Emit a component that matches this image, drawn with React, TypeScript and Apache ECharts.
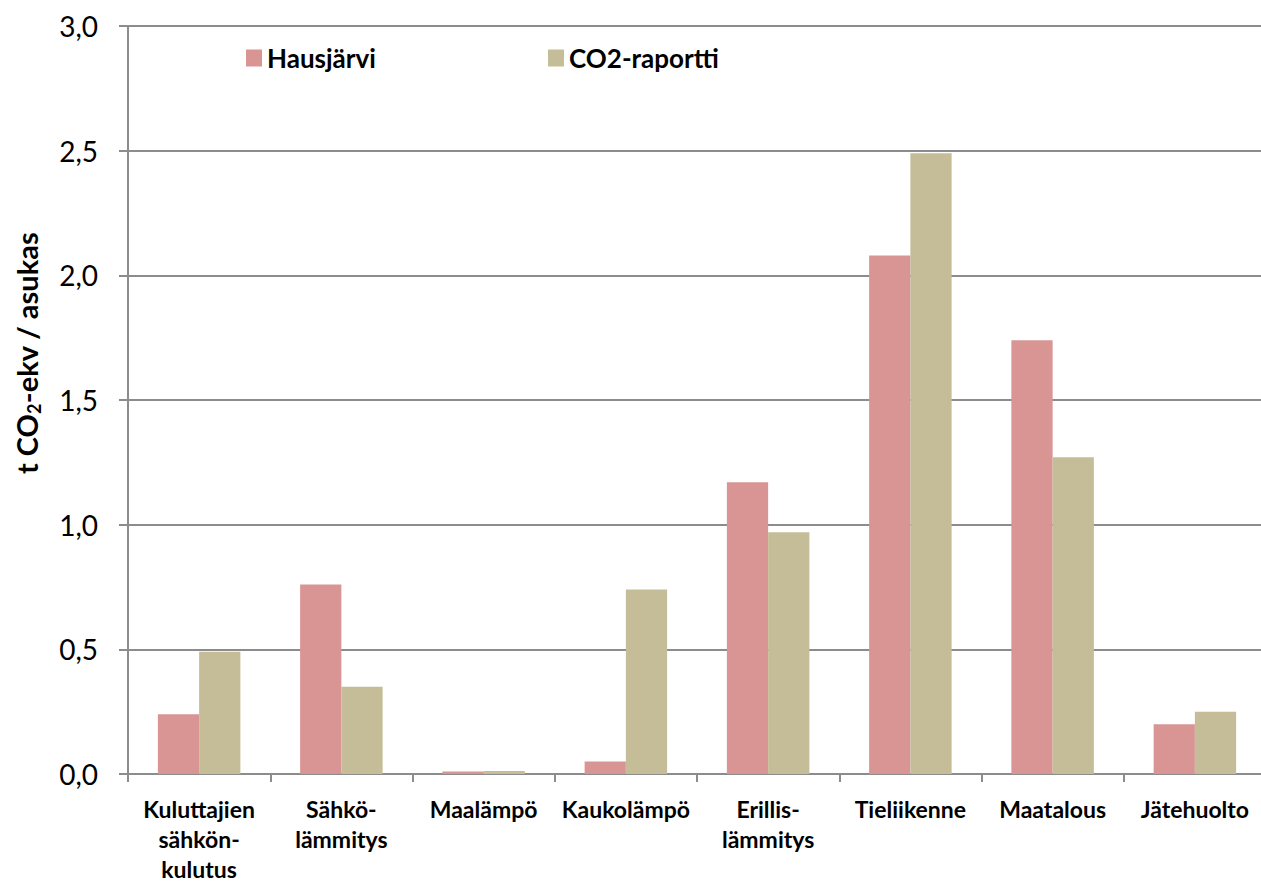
import React, { useEffect, useRef } from "react";
import * as echarts from "echarts";

const categories = [
  "Kuluttajien\nsähkön-\nkulutus",
  "Sähkö-\nlämmitys",
  "Maalämpö",
  "Kaukolämpö",
  "Erillis-\nlämmitys",
  "Tieliikenne",
  "Maatalous",
  "Jätehuolto",
];
const hausjarvi = [0.24, 0.76, 0.01, 0.05, 1.17, 2.08, 1.74, 0.2];
const co2raportti = [0.49, 0.35, 0.012, 0.74, 0.97, 2.49, 1.27, 0.25];
const seriesNames = ["Hausjärvi", "CO2-raportti"];
const colors = ["#d99594", "#c4bd97"];

const FONT = "Lato, 'Open Sans', sans-serif";

export default function App() {
  const ref = useRef<HTMLDivElement>(null);
  useEffect(() => {
    if (!ref.current) return;
    const chart = echarts.init(ref.current, null, { renderer: "svg" });
    const legendText = { fontSize: 26, fontWeight: "bold", color: "#000", fontFamily: FONT };
    chart.setOption({
      animation: false,
      backgroundColor: "#ffffff",
      textStyle: { fontFamily: FONT },
      grid: {
        left: 128,
        right: -5,
        top: 26,
        bottom: 110,
        containLabel: false,
        outerBoundsMode: "none",
      },
      legend: [
        {
          data: [seriesNames[0]],
          left: 241,
          top: 40,
          itemWidth: 16,
          itemHeight: 17,
          itemGap: 8,
          icon: "rect",
          textStyle: legendText,
        },
        {
          data: [seriesNames[1]],
          left: 543,
          top: 40,
          itemWidth: 16,
          itemHeight: 17,
          itemGap: 8,
          icon: "rect",
          textStyle: legendText,
        },
      ],
      xAxis: {
        type: "category",
        data: categories,
        axisLine: { lineStyle: { color: "#8c8c8c", width: 2 } },
        axisTick: { show: true, length: 8, lineStyle: { color: "#8c8c8c", width: 2 } },
        axisLabel: {
          interval: 0,
          margin: 20,
          fontSize: 23,
          fontWeight: "bold",
          color: "#000",
          lineHeight: 30,
          fontFamily: FONT,
        },
      },
      yAxis: {
        type: "value",
        min: 0,
        max: 3,
        interval: 0.5,
        axisLine: { show: true, lineStyle: { color: "#8c8c8c", width: 2 } },
        axisTick: { show: true, length: 9, lineStyle: { color: "#8c8c8c", width: 2 } },
        splitLine: { lineStyle: { color: "#8c8c8c", width: 2 } },
        axisLabel: {
          margin: 30,
          fontSize: 28,
          color: "#000",
          fontFamily: FONT,
          formatter: (v: number) => v.toFixed(1).replace(".", ","),
        },
      },
      graphic: [
        {
          type: "text",
          x: 26,
          y: 353,
          rotation: Math.PI / 2,
          style: {
            text: "{a|t CO}{s|2}{a|-ekv / asukas}",
            align: "center",
            verticalAlign: "middle",
            fill: "#000",
            rich: {
              a: { fontSize: 29, fontWeight: "bold", fontFamily: FONT, lineHeight: 34, verticalAlign: "middle" },
              s: { fontSize: 18, fontWeight: "bold", fontFamily: FONT, lineHeight: 34, verticalAlign: "bottom", padding: [14, 0, 0, 0] },
            },
          },
        },
      ],
      series: [
        {
          name: seriesNames[0],
          type: "bar",
          data: hausjarvi,
          itemStyle: { color: colors[0] },
          barGap: "0%",
          barCategoryGap: "42%",
        },
        {
          name: seriesNames[1],
          type: "bar",
          data: co2raportti,
          itemStyle: { color: colors[1] },
          barGap: "0%",
          barCategoryGap: "42%",
        },
      ],
    });
    return () => chart.dispose();
  }, []);
  return (
    <div
      ref={ref}
      style={{ position: "absolute", left: 0, top: 0, width: 1261, height: 884 }}
    />
  );
}
